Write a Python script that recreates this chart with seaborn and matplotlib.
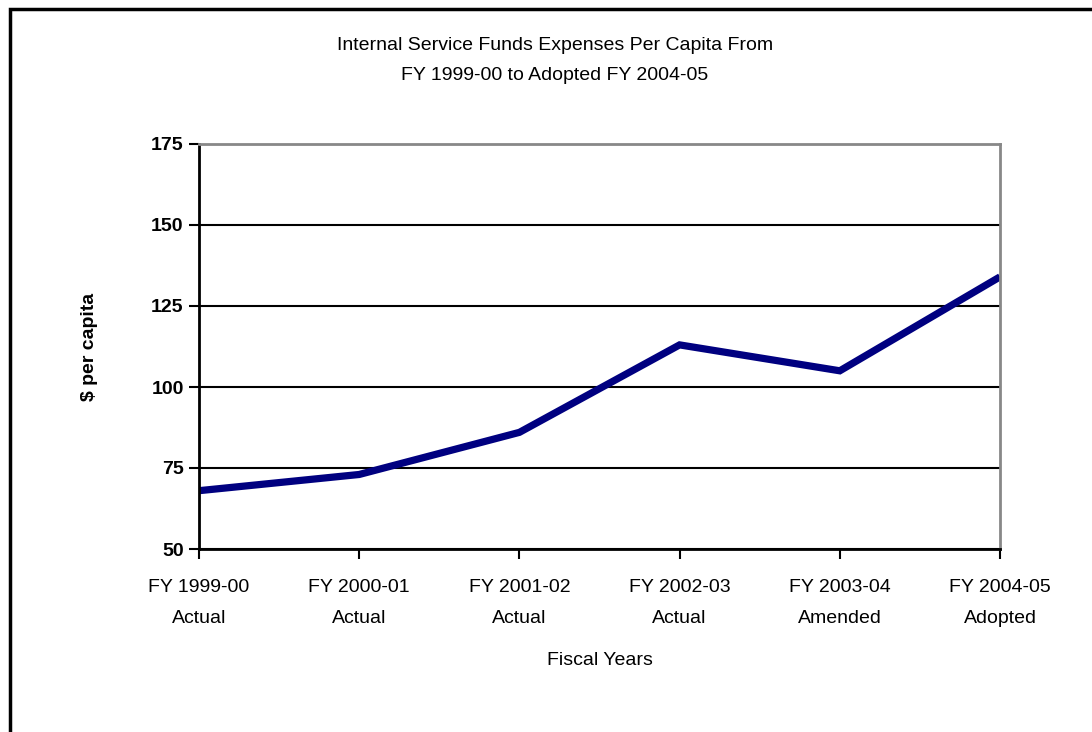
import matplotlib
matplotlib.use("Agg")
import matplotlib.pyplot as plt
import seaborn as sns
import pandas as pd
from matplotlib.patches import Rectangle

categories = ["FY 1999-00\nActual", "FY 2000-01\nActual", "FY 2001-02\nActual",
              "FY 2002-03\nActual", "FY 2003-04\nAmended", "FY 2004-05\nAdopted"]
values = [68, 73, 86, 113, 105, 134]
yticks = [50, 75, 100, 125, 150, 175]

sns.set_theme(style="white")
plt.rcParams["font.family"] = ["Liberation Sans", "DejaVu Sans"]
plt.rcParams["text.color"] = "black"
plt.rcParams["axes.labelcolor"] = "black"
plt.rcParams["xtick.color"] = "black"
plt.rcParams["ytick.color"] = "black"

FS = 14
fig = plt.figure(figsize=(10.92, 7.32), dpi=100)
ax = fig.add_axes([199/1092, 1-549/732, 801/1092, 405/732])

df = pd.DataFrame({"x": range(len(categories)), "y": values})
sns.lineplot(data=df, x="x", y="y", ax=ax, color="#000080", linewidth=5.2,
             solid_capstyle="butt", solid_joinstyle="miter")

ax.set_xlim(0, len(categories)-1)
ax.set_ylim(50, 175)
ax.set_yticks(yticks)
ax.set_yticklabels([str(t) for t in yticks], fontsize=FS, fontweight="bold")
ax.set_xticks(range(len(categories)))
ax.set_xticklabels(categories, fontsize=FS, linespacing=2.05)
ax.grid(axis="y", color="black", linewidth=1.5)
ax.set_axisbelow(True)
for s in ["top", "right"]:
    ax.spines[s].set_color("#888888")
    ax.spines[s].set_linewidth(2)
for s in ["left", "bottom"]:
    ax.spines[s].set_color("black")
    ax.spines[s].set_linewidth(2)
ax.tick_params(axis="both", direction="out", length=7, width=1.5, color="black",
               left=True, bottom=True, pad=4)
ax.tick_params(axis="x", pad=14.5)
ax.set_xlabel("Fiscal Years", fontsize=FS, labelpad=18)
ax.set_ylabel("$ per capita", fontsize=FS, fontweight="bold", labelpad=38)

fig.text(555/1092, 1-46/732, "Internal Service Funds Expenses Per Capita From",
         ha="center", va="center", fontsize=FS)
fig.text(555/1092, 1-75/732, "FY 1999-00 to Adopted FY 2004-05",
         ha="center", va="center", fontsize=FS)

fig.patches.append(Rectangle((10/1092, -0.05), 1.1, 1-9/732+0.05, transform=fig.transFigure,
                             fill=False, edgecolor="black", linewidth=2.5))

fig.savefig("out.png", dpi=100)
